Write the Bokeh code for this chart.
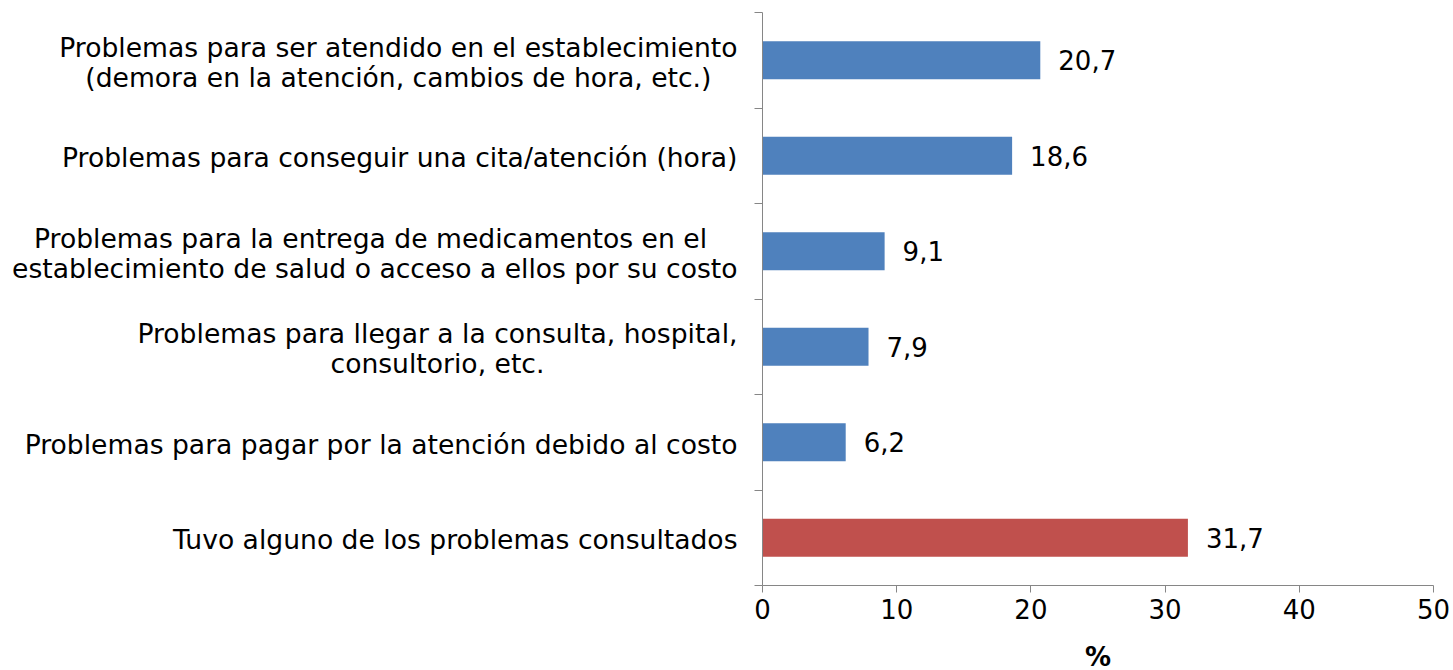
from bokeh.plotting import figure
from bokeh.models import ColumnDataSource, FixedTicker, Range1d
from bokeh.layouts import row
from bokeh.core.properties import value
from bokeh.embed import file_html
from bokeh.resources import INLINE

# Data (top to bottom)
categories = [
    "Problemas para ser atendido en el establecimiento\n(demora en la atención, cambios de hora, etc.)",
    "Problemas para conseguir una cita/atención (hora)",
    "Problemas para la entrega de medicamentos en el \nestablecimiento de salud o acceso a ellos por su costo",
    "Problemas para llegar a la consulta, hospital,\nconsultorio, etc.",
    "Problemas para pagar por la atención debido al costo",
    "Tuvo alguno de los problemas consultados",
]
values = [20.7, 18.6, 9.1, 7.9, 6.2, 31.7]
bar_colors = ["#4F81BD", "#4F81BD", "#4F81BD", "#4F81BD", "#4F81BD", "#C0504D"]
x_ticks = [0, 10, 20, 30, 40, 50]
x_title = "%"

n = len(categories)
ypos = [n - i - 0.5 for i in range(n)]
labels = [("%.1f" % v).replace(".", ",") for v in values]

src = ColumnDataSource(dict(y=ypos, v=values, c=bar_colors, lab=labels))
cat_src = ColumnDataSource(dict(y=ypos, x=[0] * n, t=categories))

FONT = "DejaVu Sans"
FS = "26px"
FS_CAT = "26.6px"
TOP, FH, BOTTOM = 12, 573, 84
LEFT_W = 742
YAX_W = 20

yr = Range1d(0, n)

# main chart
p = figure(
    output_backend="svg", toolbar_location=None,
    x_range=Range1d(0, 50), y_range=yr,
    frame_width=671, frame_height=FH,
    min_border_left=YAX_W, min_border_right=18, min_border_top=TOP, min_border_bottom=BOTTOM,
)
p.outline_line_color = None
p.background_fill_color = "white"
p.border_fill_color = "white"
p.xgrid.visible = False
p.ygrid.visible = False

p.hbar(y="y", right="v", left=0, height=0.4, color="c", line_color=None, source=src)
p.text(x="v", y="y", text="lab", source=src, x_offset=18,
       text_align="left", text_baseline="middle",
       text_font=value(FONT), text_font_size=FS, text_color="#000000")

AX = "#868686"
xa = p.xaxis[0]
xa.ticker = FixedTicker(ticks=x_ticks)
xa.axis_line_color = AX
xa.major_tick_line_color = AX
xa.major_tick_out = 7
xa.major_tick_in = 0
xa.minor_tick_line_color = None
xa.major_label_text_font = FONT
xa.major_label_text_font_size = FS
xa.major_label_text_color = "#000000"
xa.major_label_standoff = 6
xa.axis_label = x_title
xa.axis_label_text_font = FONT
xa.axis_label_text_font_size = FS
xa.axis_label_text_font_style = "bold"
xa.axis_label_text_color = "#000000"
xa.axis_label_standoff = 20

# y axis: tick marks at category boundaries only
ya = p.yaxis[0]
ya.ticker = FixedTicker(ticks=ypos, minor_ticks=list(range(n + 1)))
ya.major_label_overrides = {y: "" for y in ypos}
ya.major_label_text_font_size = "0px"
ya.major_label_standoff = 0
ya.axis_line_color = AX
ya.major_tick_line_color = None
ya.major_tick_out = 0
ya.major_tick_in = 0
ya.minor_tick_line_color = AX
ya.minor_tick_out = 8
ya.minor_tick_in = 0

# category labels panel (centred multi-line text, right-anchored)
lp = figure(
    output_backend="svg", toolbar_location=None,
    x_range=Range1d(-LEFT_W, 0), y_range=yr,
    frame_width=LEFT_W, frame_height=FH,
    min_border_left=0, min_border_right=0, min_border_top=TOP, min_border_bottom=BOTTOM,
    x_axis_type=None, y_axis_type=None,
)
lp.outline_line_color = None
lp.xgrid.visible = False
lp.ygrid.visible = False
lp.text(x="x", y="y", text="t", source=cat_src, x_offset=-(25 - YAX_W), y_offset=2,
        anchor="center_right", text_align="center", text_baseline="middle",
        text_font=value(FONT), text_font_size=FS_CAT, text_color="#000000",
        text_line_height=0.98)

layout = row(lp, p, spacing=0)
open("out.html", "w").write(file_html(layout, INLINE))
